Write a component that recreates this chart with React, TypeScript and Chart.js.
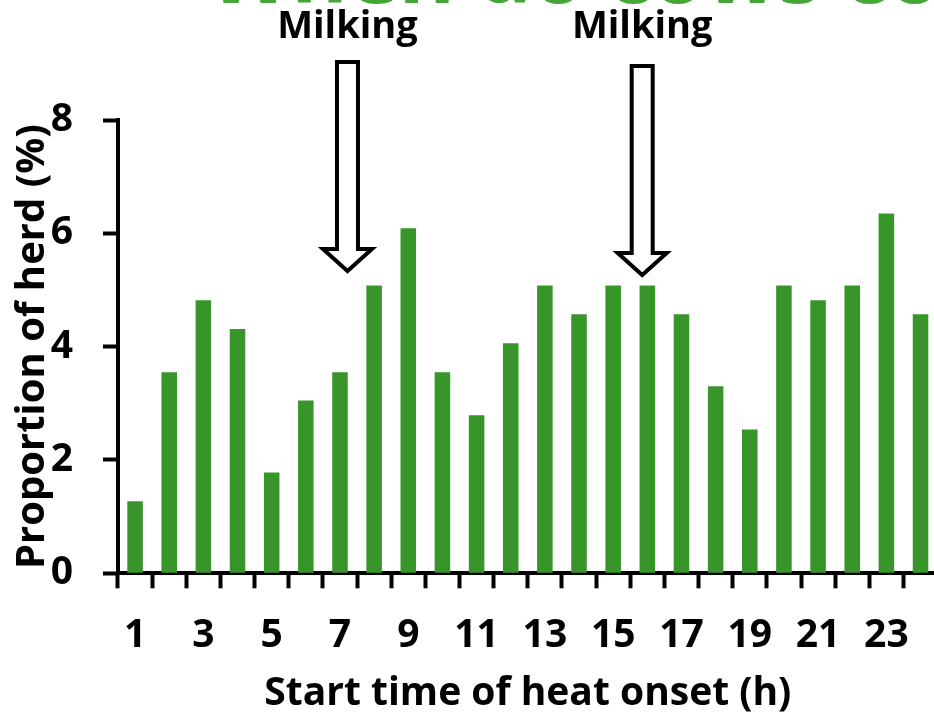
import React, { useEffect, useRef } from 'react';
import { Chart, registerables } from 'chart.js';

Chart.register(...registerables);

// ---- data ----
const HOURS = ['1', '2', '3', '4', '5', '6', '7', '8', '9', '10', '11', '12', '13', '14', '15', '16', '17', '18', '19', '20', '21', '22', '23', '24'];
const PROPORTION = [1.27, 3.55, 4.82, 4.31, 1.78, 3.05, 3.55, 5.08, 6.09, 3.55, 2.79, 4.06, 5.08, 4.57, 5.08, 5.08, 4.57, 3.30, 2.54, 5.08, 4.82, 5.08, 6.35, 4.57];
const Y_MIN = 0;
const Y_MAX = 8;
const Y_STEP = 2;
const MILKING_HOURS = [7.22, 15.85];
const MILKING_LABEL = 'Milking';
const TITLE = 'When do cows come on heat?';
const X_TITLE = 'Start time of heat onset (h)';
const Y_TITLE = 'Proportion of herd (%)';

const FONT = '"Open Sans", "Liberation Sans", "DejaVu Sans", sans-serif';
const BAR_GREEN = '#38952a';
const TITLE_GREEN = '#45a536';

const CANVAS_W = 950;
const CANVAS_H = 717;

const overlayPlugin = {
  id: 'overlay',
  afterDraw(chart: any) {
    const ctx = chart.ctx as CanvasRenderingContext2D;
    const xs = chart.scales.x;
    ctx.save();
    // clipped green headline at the very top
    ctx.fillStyle = TITLE_GREEN;
    ctx.font = `bold 86px ${FONT}`;
    ctx.textAlign = 'left';
    ctx.textBaseline = 'alphabetic';
    ctx.fillText(TITLE, 208, 3);

    MILKING_HOURS.forEach((h, k) => {
      const cx = xs.getPixelForValue(h - 1);
      const dy = k === 0 ? 0 : 4;
      const top = 62 + dy;
      const base = 249 + dy;
      const tip = 271 + dy;
      const sw = 10.5;
      const hw = 24.5;
      ctx.beginPath();
      ctx.moveTo(cx - sw, top);
      ctx.lineTo(cx + sw, top);
      ctx.lineTo(cx + sw, base);
      ctx.lineTo(cx + hw, base);
      ctx.lineTo(cx, tip);
      ctx.lineTo(cx - hw, base);
      ctx.lineTo(cx - sw, base);
      ctx.closePath();
      ctx.fillStyle = '#ffffff';
      ctx.fill();
      ctx.lineWidth = 4;
      ctx.lineJoin = 'miter';
      ctx.strokeStyle = '#000000';
      ctx.stroke();

      ctx.fillStyle = '#000000';
      ctx.font = `bold 38px ${FONT}`;
      ctx.textAlign = 'center';
      ctx.textBaseline = 'alphabetic';
      ctx.fillText(MILKING_LABEL, cx, 38);
    });
    ctx.restore();
  },
};

export default function App() {
  const ref = useRef<HTMLCanvasElement | null>(null);

  useEffect(() => {
    if (!ref.current) return;
    const chart = new Chart(ref.current, {
      type: 'bar',
      data: {
        labels: HOURS,
        datasets: [
          {
            data: PROPORTION,
            backgroundColor: BAR_GREEN,
            borderWidth: 0,
            categoryPercentage: 1,
            barPercentage: 0.455,
          },
        ],
      },
      options: {
        responsive: false,
        animation: false,
        devicePixelRatio: 1,
        layout: { padding: { top: 120, right: CANVAS_W - 937.6, left: 0, bottom: 0 } },
        plugins: {
          legend: { display: false },
          tooltip: { enabled: false },
          title: { display: false },
        },
        scales: {
          x: {
            grid: {
              offset: true,
              drawOnChartArea: false,
              drawTicks: true,
              tickLength: 15,
              tickWidth: 4,
              tickColor: '#000',
              color: '#000',
            },
            border: { display: true, color: '#000', width: 4 },
            ticks: {
              autoSkip: false,
              maxRotation: 0,
              minRotation: 0,
              padding: 24,
              color: '#000',
              font: { family: FONT, size: 39, weight: 'bold' },
              callback: (_v: any, i: number) => (i % 2 === 0 ? HOURS[i] : ''),
            },
            title: {
              display: true,
              text: X_TITLE,
              color: '#000',
              font: { family: FONT, size: 39, weight: 'bold' },
              padding: { top: 0, bottom: 0 },
            },
            afterFit: (s: any) => {
              s.height = 717 - 573.3;
            },
          },
          y: {
            min: Y_MIN,
            max: Y_MAX,
            grid: {
              drawOnChartArea: false,
              drawTicks: true,
              tickLength: 15,
              tickWidth: 4,
              tickColor: '#000',
              color: '#000',
            },
            border: { display: true, color: '#000', width: 4 },
            ticks: {
              stepSize: Y_STEP,
              padding: 30,
              color: '#000',
              font: { family: FONT, size: 39, weight: 'bold' },
            },
            title: {
              display: true,
              text: Y_TITLE,
              color: '#000',
              font: { family: FONT, size: 40, weight: 'bold' },
              padding: { top: 9, bottom: 0 },
            },
            afterFit: (s: any) => {
              s.width = 118;
            },
          },
        },
      } as any,
      plugins: [overlayPlugin],
    });
    return () => chart.destroy();
  }, []);

  return (
    <div
      style={{
        position: 'absolute',
        left: 0,
        top: 0,
        width: 934,
        height: 717,
        overflow: 'hidden',
        background: '#fff',
      }}
    >
      <canvas ref={ref} width={CANVAS_W} height={CANVAS_H} style={{ display: 'block' }} />
    </div>
  );
}
